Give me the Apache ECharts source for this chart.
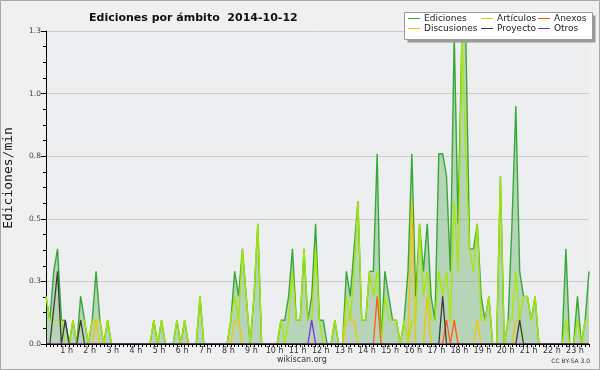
<!DOCTYPE html>
<html><head><meta charset="utf-8">
<script src="https://cdn.jsdelivr.net/npm/echarts@6/dist/echarts.min.js"></script>
<style>html,body{margin:0;padding:0;background:#f0f0f0}#c{width:600px;height:370px}</style>
</head><body><div id="c"></div>
<script>
// hour tick labels (every 6 slots of 10 minutes)
const hourLabels = ['', '1 h', '2 h', '3 h', '4 h', '5 h', '6 h', '7 h', '8 h', '9 h', '10 h', '11 h', '12 h',
  '13 h', '14 h', '15 h', '16 h', '17 h', '18 h', '19 h', '20 h', '21 h', '22 h', '23 h'];
const yTicks = [0, 0.25, 0.5, 0.75, 1.0, 1.25];
const seriesNames = ['Ediciones', 'Artículos', 'Anexos', 'Discusiones', 'Proyecto', 'Otros'];

// edits per minute, one value per 10-minute slot, 00:00 .. 23:30 (142 slots)
const ediciones = [
  0.19,0.095,0.29,0.38,0.095,0.095,0,0.095,0,0.19,0.095,0,
  0.095,0.29,0.095,0,0.095,0,0,0,0,0,0,0,
  0,0,0,0,0.095,0,0.095,0,0,0,0.095,0,
  0.095,0,0,0,0.19,0,0,0,0,0,0,0,
  0.095,0.29,0.19,0.38,0.19,0,0.19,0.48,0,0,0,0,
  0,0.095,0.095,0.19,0.38,0.095,0.095,0.38,0.095,0.19,0.48,0.095,
  0.095,0,0,0.095,0,0,0.29,0.19,0.38,0.57,0.095,0.095,
  0.29,0.29,0.76,0,0.29,0.19,0.095,0.095,0,0.095,0.29,0.76,
  0.19,0.48,0.29,0.48,0.19,0.095,0.76,0.76,0.67,0.29,1.24,0.48,
  1.24,1.24,0.38,0.38,0.48,0.19,0.095,0.19,0,0,0.67,0,
  0.095,0.48,0.95,0.29,0.19,0.19,0.095,0.19,0,0,0,0,
  0,0,0,0.38,0,0,0.19,0,0.095,0.29
];
const articulos = [
  0.19,0.095,0.095,0.095,0.095,0,0,0.095,0,0.095,0.095,0,
  0.095,0.095,0.095,0,0.095,0,0,0,0,0,0,0,
  0,0,0,0,0.095,0,0.095,0,0,0,0.095,0,
  0.095,0,0,0,0.19,0,0,0,0,0,0,0,
  0.095,0.19,0.095,0.38,0.19,0,0.19,0.48,0,0,0,0,
  0,0.095,0,0.095,0.29,0.095,0.095,0.38,0.095,0.095,0.38,0.095,
  0,0,0,0.095,0,0,0.19,0.095,0.29,0.57,0.095,0.095,
  0.29,0.19,0.29,0,0.19,0.095,0.095,0.095,0,0.095,0,0.095,
  0.095,0.48,0.19,0.29,0.095,0.095,0.29,0.19,0.29,0.095,0.57,0.29,
  1.24,0.76,0.38,0.29,0.48,0.095,0.095,0.19,0,0,0.67,0,
  0.095,0.095,0.29,0.095,0.19,0.19,0.095,0.19,0,0,0,0,
  0,0,0,0.095,0,0,0.095,0,0.095,0.095
];
const anexos = [
  0,0,0,0,0,0,0,0,0,0,0,0,
  0,0,0,0,0,0,0,0,0,0,0,0,
  0,0,0,0,0,0,0,0,0,0,0,0,
  0,0,0,0,0,0,0,0,0,0,0,0,
  0,0,0,0,0,0,0,0,0,0,0,0,
  0,0,0,0,0,0,0,0,0,0,0,0,
  0,0,0,0,0,0,0,0,0,0,0,0,
  0,0,0.19,0,0,0,0,0,0,0,0,0,
  0,0,0,0,0,0,0,0,0.095,0,0.095,0,
  0,0,0,0,0,0,0,0,0,0,0,0,
  0,0,0,0,0,0,0,0,0,0,0,0,
  0,0,0,0,0,0,0,0,0,0
];
const discusiones = [
  0,0,0,0,0,0,0,0,0,0,0,0,
  0,0.095,0,0,0,0,0,0,0,0,0,0,
  0,0,0,0,0,0,0,0,0,0,0,0,
  0,0,0,0,0,0,0,0,0,0,0,0,
  0,0.095,0.095,0,0,0,0,0,0,0,0,0,
  0,0,0,0,0,0,0,0,0,0,0,0,
  0,0,0,0,0,0,0.095,0.095,0.095,0,0,0,
  0,0,0,0,0,0,0,0,0,0,0,0.57,
  0,0,0,0.19,0,0,0,0,0.095,0.095,0.095,0,
  0,0,0,0,0.095,0,0,0,0,0,0,0,
  0,0,0.095,0.095,0,0,0,0,0,0,0,0,
  0,0,0,0,0,0,0,0,0,0
];
const proyecto = [
  0,0,0.14,0.29,0,0.095,0,0,0,0.095,0,0,
  0,0,0,0,0,0,0,0,0,0,0,0,
  0,0,0,0,0,0,0,0,0,0,0,0,
  0,0,0,0,0,0,0,0,0,0,0,0,
  0,0,0,0,0,0,0,0,0,0,0,0,
  0,0,0,0,0,0,0,0,0,0,0,0,
  0,0,0,0,0,0,0,0,0,0,0,0,
  0,0,0,0,0,0,0,0,0,0,0,0,
  0,0,0,0,0,0,0,0.19,0,0,0,0,
  0,0,0,0,0,0,0,0,0,0,0,0,
  0,0,0,0.095,0,0,0,0,0,0,0,0,
  0,0,0,0,0,0,0,0,0,0
];
const otros = [
  0,0,0,0,0,0,0,0,0,0,0,0,
  0,0,0,0,0,0,0,0,0,0,0,0,
  0,0,0,0,0,0,0,0,0,0,0,0,
  0,0,0,0,0,0,0,0,0,0,0,0,
  0,0,0,0,0,0,0,0,0,0,0,0,
  0,0,0,0,0,0,0,0,0,0.095,0,0,
  0,0,0,0,0,0,0,0,0,0,0,0,
  0,0,0,0,0,0,0,0,0,0,0,0,
  0,0,0,0,0,0,0,0,0,0,0,0,
  0,0,0,0,0,0,0,0,0,0,0,0,
  0,0,0,0,0,0,0,0,0,0,0,0,
  0,0,0,0,0,0,0,0,0,0
];

const slots = [];
for (let k = 0; k < ediciones.length; k++) {
  const h = Math.floor(k / 6), m = (k % 6) * 10;
  slots.push(h + ':' + (m < 10 ? '0' : '') + m);
}

const colors = {
  'Ediciones': '#37a837', 'Artículos': '#a8e800', 'Anexos': '#ff5a1e',
  'Discusiones': '#f5c400', 'Proyecto': '#3c3c3c', 'Otros': '#7a2ee8'
};
const valuesByName = {
  'Ediciones': ediciones, 'Artículos': articulos, 'Anexos': anexos,
  'Discusiones': discusiones, 'Proyecto': proyecto, 'Otros': otros
};
const drawOrder = ['Ediciones', 'Artículos', 'Discusiones', 'Anexos', 'Otros', 'Proyecto'];

const legendPos = {
  'Ediciones': [408, 14], 'Artículos': [481, 14], 'Anexos': [538, 14],
  'Discusiones': [408, 24], 'Proyecto': [481, 24], 'Otros': [538, 24]
};

const chart = echarts.init(document.getElementById('c'), null, {renderer: 'canvas'});
const FONT = 'DejaVu Sans';
chart.setOption({
  backgroundColor: '#f0f0f0',
  animation: false,
  title: {
    text: 'Ediciones por ámbito  2014-10-12', left: 84, top: 8,
    textStyle: {fontFamily: FONT, fontSize: 11, fontWeight: 'bold', color: '#111'}
  },
  legend: seriesNames.map(n => ({
    data: [n], left: legendPos[n][0], top: legendPos[n][1], padding: 0,
    icon: 'rect', itemWidth: 12, itemHeight: 1, itemGap: 0,
    selectedMode: false,
    textStyle: {fontFamily: FONT, fontSize: 9, color: '#222', padding: [0, 0, 0, -1]},
    z: 20
  })),
  grid: {left: 46, top: 31, width: 543, height: 313, show: true, backgroundColor: '#edeef0', borderWidth: 0,
    containLabel: false, outerBoundsMode: 'none'},
  xAxis: {
    type: 'category', data: slots, boundaryGap: false, z: 10,
    axisLine: {lineStyle: {color: '#000', width: 1}},
    axisTick: {interval: 0, length: 3, lineStyle: {color: '#000'}},
    axisLabel: {
      interval: (i) => i % 6 === 0 && i > 0,
      formatter: (v, i) => hourLabels[i / 6] || '',
      fontFamily: FONT, fontSize: 8, color: '#333', margin: 3, padding: [0, 5, 0, 0]
    },
    splitLine: {show: false}
  },
  yAxis: {
    type: 'value', min: yTicks[0], max: yTicks[yTicks.length - 1], interval: 0.25,
    name: 'Ediciones/min', nameLocation: 'middle', nameGap: 31,
    nameTextStyle: {fontFamily: 'DejaVu Sans Mono', fontSize: 13, color: '#111', padding: [0, 0, 0, 19]},
    axisLine: {show: true, lineStyle: {color: '#000'}},
    axisTick: {show: true, length: 5, lineStyle: {color: '#000'}},
    minorTick: {show: true, splitNumber: 4, length: 3, lineStyle: {color: '#000'}},
    axisLabel: {formatter: v => v.toFixed(1), fontFamily: FONT, fontSize: 7.5, color: '#444', margin: 5},
    splitLine: {lineStyle: {color: '#cccccc', width: 1}}
  },
  series: drawOrder.map(n => ({
    name: n, type: 'line', data: valuesByName[n], symbol: 'none', smooth: false,
    lineStyle: {color: colors[n], width: n === 'Ediciones' ? 1.4 : 1.3},
    itemStyle: {color: colors[n]},
    areaStyle: n === 'Ediciones' ? {color: 'rgba(50,150,50,0.42)'} : undefined,
    z: n === 'Ediciones' ? 2 : 3
  })),
  graphic: [
    {type: 'rect', shape: {x: 0.5, y: 0.5, width: 599, height: 369}, style: {fill: null, stroke: '#a8a8a8', lineWidth: 1}, z: 0, silent: true},
    {type: 'rect', shape: {x: 407.5, y: 15.5, width: 188, height: 27}, style: {fill: '#9a9a9a'}, z: 15},
    {type: 'rect', shape: {x: 404.5, y: 12.5, width: 188, height: 27}, style: {fill: '#ffffff', stroke: '#9a9a9a', lineWidth: 1}, z: 16},
    {type: 'text', left: 277, top: 356, style: {text: 'wikiscan.org', font: '8px "DejaVu Sans"', fill: '#333'}},
    {type: 'text', right: 10, top: 358, style: {text: 'CC BY-SA 3.0', font: '6px "DejaVu Sans"', fill: '#333'}}
  ]
});
</script></body></html>
